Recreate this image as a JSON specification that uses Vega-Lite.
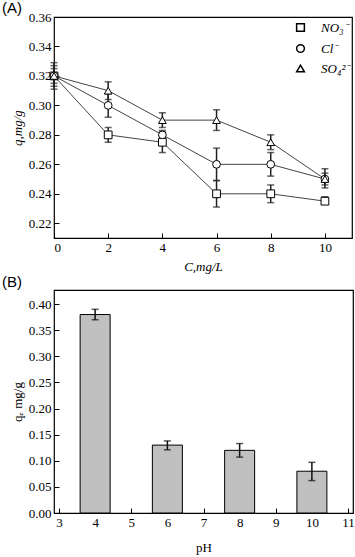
{
  "$schema": "https://vega.github.io/schema/vega-lite/v6.json",
  "padding": {"top": 0, "left": 1, "right": 4, "bottom": 0},
  "background": "white",
  "spacing": 0,
  "datasets": {
    "anions": [
      {"series": "NO₃⁻", "C": 0, "q": 0.32, "lo": 0.311, "hi": 0.329},
      {"series": "NO₃⁻", "C": 2, "q": 0.28, "lo": 0.275, "hi": 0.285},
      {"series": "NO₃⁻", "C": 4, "q": 0.275, "lo": 0.268, "hi": 0.282},
      {"series": "NO₃⁻", "C": 6, "q": 0.24, "lo": 0.231, "hi": 0.249},
      {"series": "NO₃⁻", "C": 8, "q": 0.24, "lo": 0.234, "hi": 0.246},
      {"series": "NO₃⁻", "C": 10, "q": 0.235, "lo": 0.233, "hi": 0.238},
      {"series": "Cl⁻", "C": 0, "q": 0.32, "lo": 0.313, "hi": 0.327},
      {"series": "Cl⁻", "C": 2, "q": 0.30, "lo": 0.292, "hi": 0.308},
      {"series": "Cl⁻", "C": 4, "q": 0.28, "lo": 0.277, "hi": 0.283},
      {"series": "Cl⁻", "C": 6, "q": 0.26, "lo": 0.249, "hi": 0.271},
      {"series": "Cl⁻", "C": 8, "q": 0.26, "lo": 0.252, "hi": 0.268},
      {"series": "Cl⁻", "C": 10, "q": 0.25, "lo": 0.246, "hi": 0.254},
      {"series": "SO₄²⁻", "C": 0, "q": 0.32, "lo": 0.315, "hi": 0.325},
      {"series": "SO₄²⁻", "C": 2, "q": 0.31, "lo": 0.304, "hi": 0.316},
      {"series": "SO₄²⁻", "C": 4, "q": 0.29, "lo": 0.285, "hi": 0.295},
      {"series": "SO₄²⁻", "C": 6, "q": 0.29, "lo": 0.283, "hi": 0.297},
      {"series": "SO₄²⁻", "C": 8, "q": 0.275, "lo": 0.27, "hi": 0.28},
      {"series": "SO₄²⁻", "C": 10, "q": 0.25, "lo": 0.244, "hi": 0.257}
    ],
    "ph": [
      {"pH": 4, "q": 0.38, "lo": 0.37, "hi": 0.39},
      {"pH": 6, "q": 0.13, "lo": 0.121, "hi": 0.138},
      {"pH": 8, "q": 0.12, "lo": 0.107, "hi": 0.133},
      {"pH": 10, "q": 0.08, "lo": 0.062, "hi": 0.097}
    ]
  },
  "config": {
    "font": "Liberation Serif",
    "view": {"stroke": "black", "strokeWidth": 1.2},
    "axis": {
      "labelFont": "Liberation Serif", "labelFontSize": 13, "labelColor": "black", "labelOverlap": false,
      "titleFont": "Liberation Serif", "titleFontSize": 13, "titleFontWeight": "normal", "titleColor": "black",
      "domain": false, "grid": false, "tickColor": "black", "tickSize": -5, "tickWidth": 1, "labelPadding": 8
    },
    "title": {"font": "Liberation Sans", "fontSize": 15, "fontWeight": "normal", "color": "black", "anchor": "start", "frame": "group"}
  },
  "vconcat": [
    {
      "title": {"text": "(A)", "dx": -52, "offset": -5},
      "width": 298,
      "height": 221,
      "data": {"name": "anions"},
      "encoding": {
        "x": {"field": "C", "type": "quantitative", "scale": {"domain": [0, 11], "nice": false},
              "axis": {"values": [0, 2, 4, 6, 8, 10], "labelOverlap": false, "title": "C,mg/L", "titleFontStyle": "italic", "titlePadding": 6}}
      },
      "layer": [
        {
          "mark": {"type": "line", "color": "#444", "strokeWidth": 1},
          "encoding": {
            "y": {"field": "q", "type": "quantitative", "title": "q,mg/g", "scale": {"domain": [0.21, 0.36], "nice": false, "zero": false},
                  "axis": {"values": [0.22, 0.24, 0.26, 0.28, 0.30, 0.32, 0.34, 0.36], "labelOverlap": false, "format": ".2f", "titleFontStyle": "italic"}},
            "detail": {"field": "series"}
          }
        },
        {
          "mark": {"type": "errorbar", "ticks": {"size": 7}, "color": "#222", "thickness": 1.5},
          "encoding": {
            "y": {"field": "lo", "type": "quantitative", "title": "q,mg/g",
                  "axis": {"values": [0.22, 0.24, 0.26, 0.28, 0.30, 0.32, 0.34, 0.36], "labelOverlap": false, "format": ".2f", "titleFontStyle": "italic"}},
            "y2": {"field": "hi"}
          }
        },
        {
          "mark": {"type": "point", "filled": true, "fill": "white", "stroke": "black", "strokeWidth": 1, "size": 60, "opacity": 1},
          "encoding": {
            "y": {"field": "q", "type": "quantitative", "title": "q,mg/g",
                  "axis": {"values": [0.22, 0.24, 0.26, 0.28, 0.30, 0.32, 0.34, 0.36], "labelOverlap": false, "format": ".2f", "titleFontStyle": "italic"}},
            "shape": {"field": "series", "type": "nominal",
                      "scale": {"domain": ["NO₃⁻", "Cl⁻", "SO₄²⁻"], "range": ["square", "circle", "triangle-up"]},
                      "legend": {"title": null, "orient": "none", "legendX": 240, "legendY": 4, "labelFont": "Liberation Serif", "labelFontStyle": "italic",
                                 "labelFontSize": 13, "labelColor": "black", "symbolSize": 60, "rowPadding": 6, "labelOffset": 14,
                                 "encode": {"symbols": {"update": {
                                   "stroke": {"value": "black"}, "fill": {"value": "white"}, "strokeWidth": {"value": 1}, "opacity": {"value": 1},
                                   "shape": {"signal": "datum.index === 0 ? 'M-3.2,0H-1M1,0H3.2M-1,-1H1V1H-1Z' : datum.index === 1 ? 'M-3.2,0H-1M1,0H3.2M-1,0A1,1 0 1,0 1,0A1,1 0 1,0 -1,0Z' : 'M-3.2,0.55H-1.15M1.15,0.55H3.2M0,-1.1L1.15,0.85H-1.15Z'"}
                                 }}}}}
          }
        }
      ]
    },
    {
      "title": {"text": "(B)", "dx": -52, "offset": 0},
      "width": 299,
      "height": 223,
      "data": {"name": "ph"},
      "encoding": {
        "x": {"field": "pH", "type": "quantitative", "scale": {"domain": [3, 11], "nice": false, "zero": false},
              "axis": {"values": [3, 4, 5, 6, 7, 8, 9, 10, 11], "labelOverlap": false, "title": "pH", "titlePadding": 12}}
      },
      "layer": [
        {
          "mark": {"type": "bar", "size": 30, "fill": "#c0c0c0", "stroke": "black", "strokeWidth": 1},
          "encoding": {
            "y": {"field": "q", "type": "quantitative", "title": "qₑ mg/g", "scale": {"domain": [0, 0.427], "nice": false},
                  "axis": {"values": [0, 0.05, 0.1, 0.15, 0.2, 0.25, 0.3, 0.35, 0.4], "labelOverlap": false, "format": ".2f"}}
          }
        },
        {
          "mark": {"type": "errorbar", "ticks": {"size": 7}, "color": "#111", "thickness": 1.5},
          "encoding": {
            "y": {"field": "lo", "type": "quantitative", "title": "qₑ mg/g",
                  "axis": {"values": [0, 0.05, 0.1, 0.15, 0.2, 0.25, 0.3, 0.35, 0.4], "labelOverlap": false, "format": ".2f"}},
            "y2": {"field": "hi"}
          }
        }
      ]
    }
  ]
}
